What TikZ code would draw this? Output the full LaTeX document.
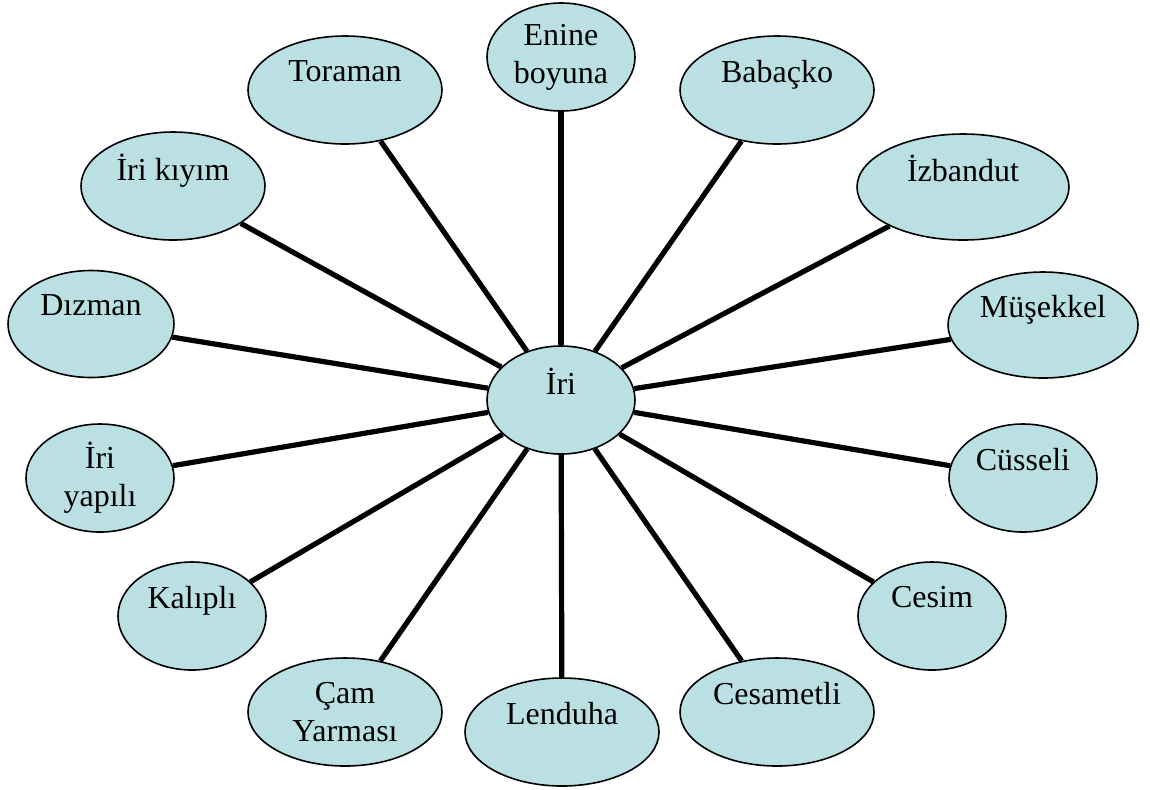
\documentclass[tikz,border=0pt]{standalone}
\usepackage{fontspec}
\setmainfont{Liberation Serif}
\usetikzlibrary{shapes.geometric}
\definecolor{bubfill}{RGB}{186,224,228}
\tikzset{
  bub/.style={ellipse, draw=black, fill=bubfill, line width=0.8pt, inner sep=0pt,
    align=center, font=\fontsize{16}{19}\selectfont, minimum height=54pt},
  small/.style={bub, minimum width=74pt},
  wide/.style={bub, minimum width=97pt},
  spoke/.style={line width=2.6pt, black}
}
\begin{document}
\begin{tikzpicture}[x=0.5pt, y=-0.5pt]
\useasboundingbox (0,0) rectangle (1150,789);
\node[small] (iri) at (561,400) {İri\\\mbox{}};
\node[small] (enine) at (561,57) {Enine\\boyuna};
\node[wide] (babacko) at (777,90) {Babaçko\\\mbox{}};
\node[bub, minimum width=106pt, minimum height=53pt] (izbandut) at (963,187) {İzbandut\\\mbox{}};
\node[bub, minimum width=95pt, minimum height=53pt] (musekkel) at (1043,325) {Müşekkel\\\mbox{}};
\node[small] (cusseli) at (1023,478) {Cüsseli\\\mbox{}};
\node[small] (cesim) at (932,616) {Cesim\\\mbox{}};
\node[wide] (cesametli) at (777,712) {Cesametli\\\mbox{}};
\node[wide] (lenduha) at (562,732) {Lenduha\\\mbox{}};
\node[wide] (cam) at (345,712) {Çam\\Yarması};
\node[small] (kalipli) at (192,616) {Kalıplı\\\mbox{}};
\node[small] (iriyapili) at (100,478) {İri\\yapılı};
\node[bub, minimum width=83pt, minimum height=53.5pt] (dizman) at (91,324) {Dızman\\\mbox{}};
\node[bub, minimum width=92pt] (irikiyim) at (173,186) {İri kıyım\\\mbox{}};
\node[wide] (toraman) at (345,90) {Toraman\\\mbox{}};
\foreach \n in {enine,babacko,izbandut,musekkel,cusseli,cesim,cesametli,lenduha,cam,kalipli,iriyapili,dizman,irikiyim,toraman}
  \draw[spoke] (iri) -- (\n);
\end{tikzpicture}
\end{document}
